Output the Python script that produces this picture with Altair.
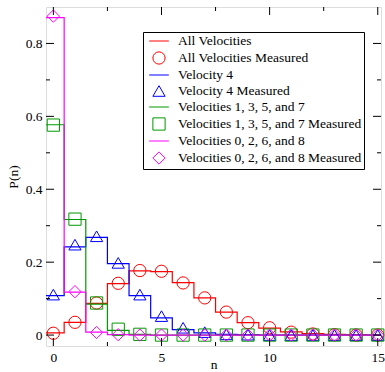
import altair as alt
import pandas as pd

# ---------------- data ----------------
n = list(range(16))
series_names = [
    "All Velocities",
    "All Velocities Measured",
    "Velocity 4",
    "Velocity 4 Measured",
    "Velocities 1, 3, 5, and 7",
    "Velocities 1, 3, 5, and 7 Measured",
    "Velocities 0, 2, 6, and 8",
    "Velocities 0, 2, 6, and 8 Measured",
]
series_colors = ["#ff0000", "#ff0000", "#0000ff", "#0000ff",
                 "#009a00", "#009a00", "#ff00ff", "#ff00ff"]
LINE = "M-1.6,0L1.6,0"
series_shapes = [LINE, "circle", LINE, "triangle-up", LINE, "square", LINE, "diamond"]

all_theory = [0.006, 0.035, 0.087, 0.141, 0.176, 0.174, 0.144, 0.102, 0.063, 0.034, 0.019, 0.009, 0.004, 0.002, 0.001, 0.0]
all_meas = [0.005, 0.035, 0.088, 0.142, 0.177, 0.175, 0.143, 0.102, 0.063, 0.034, 0.020, 0.008, 0.003, 0.001, 0.0, 0.0]
v4_theory = [0.108, 0.242, 0.268, 0.196, 0.108, 0.047, 0.015, 0.006, 0.002, 0.001, 0.0, 0.0, 0.0, 0.0, 0.0, 0.0]
v4_meas = [0.111, 0.248, 0.271, 0.198, 0.111, 0.052, 0.020, 0.008, 0.002, 0.001, 0.0, 0.0, 0.0, 0.0, 0.0, 0.0]
v1357_theory = [0.577, 0.317, 0.085, 0.013, 0.002, 0.0, 0.0, 0.0, 0.0, 0.0, 0.0, 0.0, 0.0, 0.0, 0.0, 0.0]
v1357_meas = [0.576, 0.318, 0.088, 0.016, 0.002, 0.0, 0.0, 0.0, 0.0, 0.0, 0.0, 0.0, 0.0, 0.0, 0.0, 0.0]
v0268_theory = [0.871, 0.118, 0.008, 0.001, 0.0, 0.0, 0.0, 0.0, 0.0, 0.0, 0.0, 0.0, 0.0, 0.0, 0.0, 0.0]
v0268_meas = [0.875, 0.119, 0.007, 0.001, 0.0, 0.0, 0.0, 0.0, 0.0, 0.0, 0.0, 0.0, 0.0, 0.0, 0.0, 0.0]

x_major = [0, 5, 10, 15]
x_minor = [2.5, 7.5, 12.5]
y_major = [0, 0.2, 0.4, 0.6, 0.8]
y_minor = [0.1, 0.3, 0.5, 0.7]

X_DOMAIN = [-0.34, 15.15]
Y_DOMAIN = [-0.03, 0.9]

# ---------------- tables ----------------
theory = [all_theory, v4_theory, v1357_theory, v0268_theory]
meas = [all_meas, v4_meas, v1357_meas, v0268_meas]

pt_rows = []
for k, vals in enumerate(meas):
    name = series_names[2 * k + 1]
    for i, v in zip(n, vals):
        pt_rows.append({"x": i, "p": v, "series": name})
pt_df = pd.DataFrame(pt_rows)

W, H = 335, 339
FONT = "Liberation Serif"
FS = 13.5

xs = alt.Scale(domain=X_DOMAIN, nice=False, zero=False)
ys = alt.Scale(domain=Y_DOMAIN, nice=False, zero=False)
cs = alt.Scale(domain=series_names, range=series_colors)
ss = alt.Scale(domain=series_names, range=series_shapes)
zs = alt.Scale(domain=series_names, range=[150] * len(series_names))

x_axis = alt.Axis(values=x_major, format="~g", ticks=False, tickSize=0, domain=False,
                  grid=False, labelPadding=15, labelBaseline="alphabetic",
                  titleY=22, titleBaseline="alphabetic",
                  labelFont=FONT, labelFontSize=FS, titleFont=FONT, titleFontSize=FS,
                  titleFontWeight="normal", labelColor="black", titleColor="black")
y_axis = alt.Axis(values=y_major, format="~g", ticks=False, tickSize=0, domain=False,
                  grid=False, labelPadding=4, titlePadding=5,
                  labelFont=FONT, labelFontSize=FS, titleFont=FONT, titleFontSize=FS,
                  titleFontWeight="normal", labelColor="black", titleColor="black")

legend = alt.Legend(title=None, orient="none", legendX=97, legendY=25,
                    padding=2, fillColor="white", strokeColor="black",
                    labelFont=FONT, labelFontSize=FS, labelColor="black", labelLimit=400,
                    symbolSize=100, symbolStrokeWidth=1, rowPadding=1,
                    labelOffset=12, symbolOffset=7)

def X(field):
    return alt.X(field, type="quantitative", scale=xs, axis=x_axis, title="n")

def Y(field):
    return alt.Y(field, type="quantitative", scale=ys, axis=y_axis, title="P(n)")

line_layers = []
for k, vals in enumerate(theory):
    xs_edges = [i - 0.5 for i in n] + [n[-1] + 0.5]
    ps = list(vals) + [vals[-1]]
    d = pd.DataFrame({"x": xs_edges, "p": ps})
    line_layers.append(
        alt.Chart(d).mark_line(interpolate="step-after", clip=True, strokeWidth=1.2,
                               color=series_colors[2 * k]).encode(x=X("x"), y=Y("p"))
    )

points = alt.Chart(pt_df).mark_point(filled=False, strokeWidth=1, opacity=1).encode(
    x=X("x"),
    y=Y("p"),
    color=alt.Color("series:N", scale=cs, legend=legend),
    shape=alt.Shape("series:N", scale=ss, legend=legend),
    size=alt.Size("series:N", scale=zs, legend=None),
)

def xticks(vals, length):
    d = pd.DataFrame({"x": vals})
    bottom = alt.Chart(d).mark_rule(color="black", strokeWidth=1).encode(
        x=X("x"), y=alt.value(H), y2=alt.value(H - length))
    top = alt.Chart(d).mark_rule(color="black", strokeWidth=1).encode(
        x=X("x"), y=alt.value(0), y2=alt.value(length))
    return [bottom, top]

def yticks(vals, length):
    d = pd.DataFrame({"p": vals})
    left = alt.Chart(d).mark_rule(color="black", strokeWidth=1).encode(
        y=Y("p"), x=alt.value(0), x2=alt.value(length))
    right = alt.Chart(d).mark_rule(color="black", strokeWidth=1).encode(
        y=Y("p"), x=alt.value(W), x2=alt.value(W - length))
    return [left, right]

tick_layers = xticks(x_major, 8) + xticks(x_minor, 4) + yticks(y_major, 8) + yticks(y_minor, 4)

chart = alt.layer(*line_layers, points, *tick_layers).properties(
    width=W, height=H,
    autosize=alt.AutoSizeParams(type="none"),
    padding={"left": 46, "top": 7, "right": 4, "bottom": 26},
).configure_view(stroke="black", strokeWidth=1.5).configure_legend(
    strokeWidth=1
).configure(background="white", font=FONT)

chart.save("out.html", embed_options={"renderer": "svg", "actions": False})
